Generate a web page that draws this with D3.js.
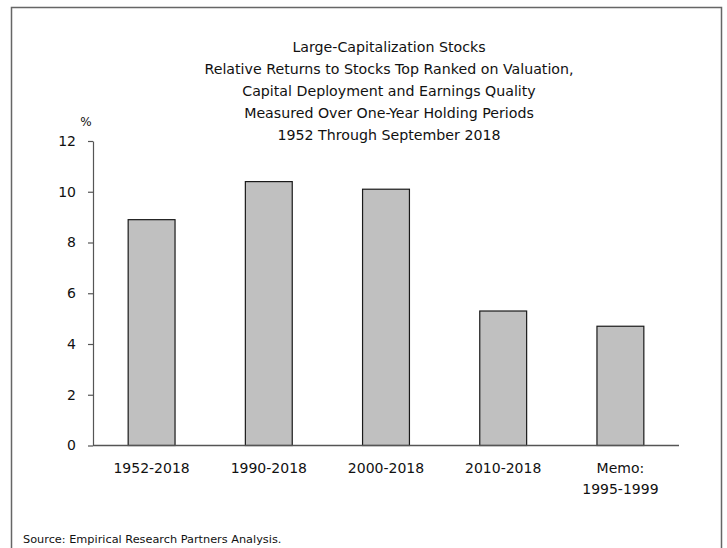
<!DOCTYPE html>
<html>
<head>
<script src="https://d3js.org/d3.v7.min.js"></script>
<style>
  body { margin: 0; background: #fff; }
  text { font-family: "DejaVu Sans", sans-serif; fill: #111; }
</style>
</head>
<body>
<svg id="chart" width="727" height="548"></svg>
<script>
// chart data
var categories = ["1952-2018", "1990-2018", "2000-2018", "2010-2018", "Memo:\n1995-1999"];
var values = [8.9, 10.4, 10.1, 5.3, 4.7];
var yTicks = [0, 2, 4, 6, 8, 10, 12];
var titleLines = [
  "Large-Capitalization Stocks",
  "Relative Returns to Stocks Top Ranked on Valuation,",
  "Capital Deployment and Earnings Quality",
  "Measured Over One-Year Holding Periods",
  "1952 Through September 2018"
];
var sourceNote = "Source: Empirical Research Partners Analysis.";

var svg = d3.select("#chart");

// outer frame (no bottom edge visible)
svg.append("path")
  .attr("d", "M11.5,560 V7.5 H721.5 V560")
  .attr("fill", "none")
  .attr("stroke", "#666")
  .attr("stroke-width", 1.5);

var plotLeft = 93, plotRight = 679, plotTop = 141, plotBottom = 445.5;

var x = d3.scaleBand()
  .domain(categories)
  .range([plotLeft, plotRight])
  .paddingInner(0.6)
  .paddingOuter(0.3);

var y = d3.scaleLinear()
  .domain([0, 12])
  .range([plotBottom, plotTop]);

// title
svg.append("g").selectAll("text")
  .data(titleLines)
  .join("text")
  .attr("x", 389)
  .attr("y", function(d, i) { return 52 + i * 22; })
  .attr("text-anchor", "middle")
  .style("font-size", "14.2px")
  .text(function(d) { return d; });

// bars
svg.append("g").selectAll("rect")
  .data(values)
  .join("rect")
  .attr("x", function(d, i) { return x(categories[i]); })
  .attr("y", function(d) { return y(d); })
  .attr("width", x.bandwidth())
  .attr("height", function(d) { return y(0) - y(d); })
  .attr("fill", "#c0c0c0")
  .attr("stroke", "#1a1a1a")
  .attr("stroke-width", 1.2);

// y axis
var yAxis = svg.append("g")
  .attr("transform", "translate(" + plotLeft + ",0)")
  .call(d3.axisLeft(y).tickValues(yTicks).tickSize(5).tickPadding(12).tickSizeOuter(0));
yAxis.select(".domain").attr("stroke", "#555").attr("stroke-width", 1.2);
yAxis.selectAll(".tick line").attr("stroke", "#555").attr("stroke-width", 1.2);
yAxis.selectAll(".tick text")
  .style("font-size", "14px")
  .style("font-family", "DejaVu Sans, sans-serif")
  .attr("fill", "#111");

// x axis line
svg.append("line")
  .attr("x1", plotLeft).attr("x2", plotRight)
  .attr("y1", y(0)).attr("y2", y(0))
  .attr("stroke", "#555")
  .attr("stroke-width", 1.5);

// x labels
var xl = svg.append("g").selectAll("text")
  .data(categories)
  .join("text")
  .attr("x", function(d) { return x(d) + x.bandwidth() / 2; })
  .attr("y", 473)
  .attr("text-anchor", "middle")
  .style("font-size", "14px");
xl.selectAll("tspan")
  .data(function(d) { return d.split("\n"); })
  .join("tspan")
  .attr("x", function() { return d3.select(this.parentNode).attr("x"); })
  .attr("dy", function(d, i) { return i === 0 ? 0 : 21; })
  .text(function(d) { return d; });

// unit label
svg.append("text")
  .attr("x", 86)
  .attr("y", 126)
  .attr("text-anchor", "middle")
  .style("font-size", "12px")
  .text("%");

// source
svg.append("text")
  .attr("x", 23)
  .attr("y", 543)
  .style("font-size", "11.3px")
  .text(sourceNote);
</script>
</body>
</html>
